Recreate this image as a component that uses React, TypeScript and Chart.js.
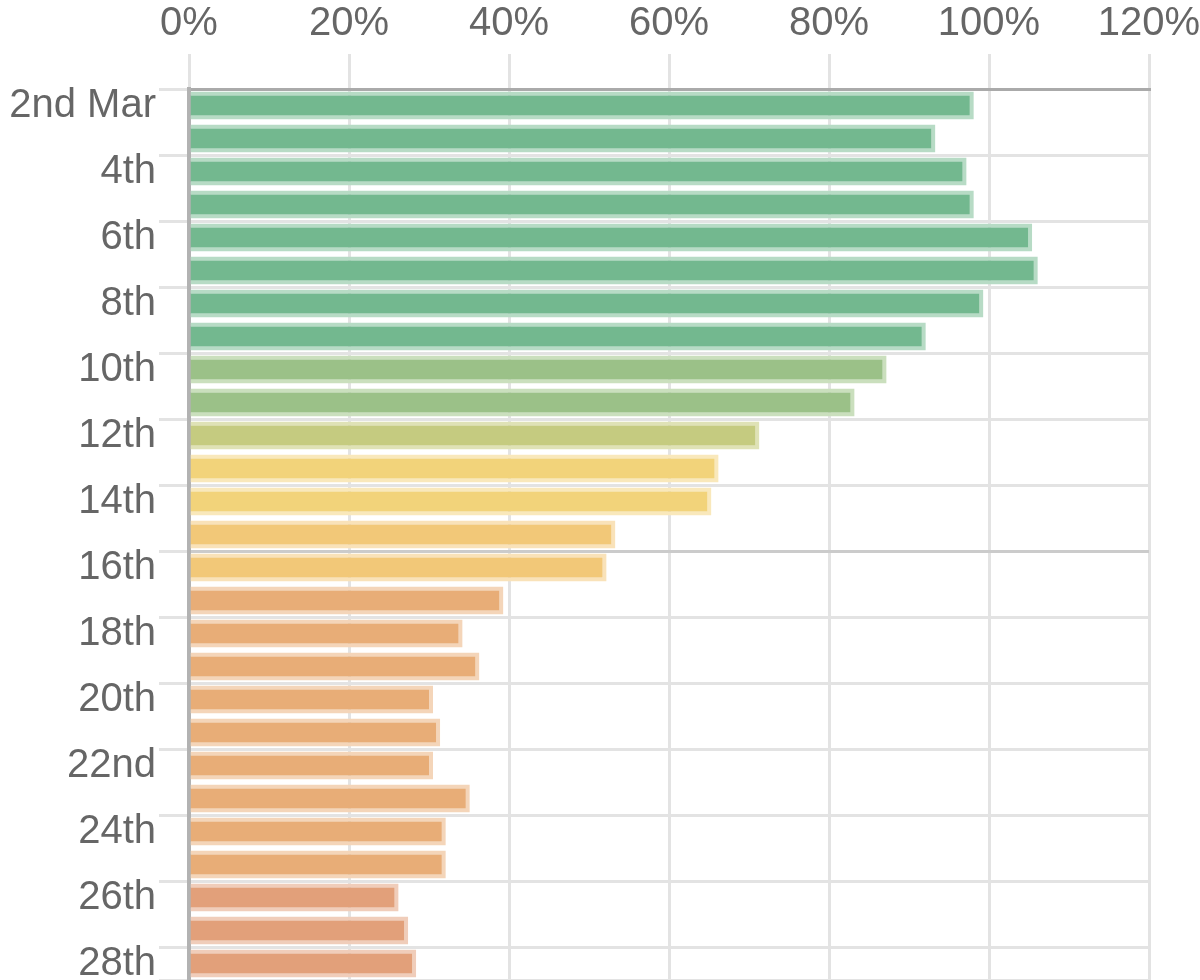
import React, { useEffect, useRef } from "react";
import { Chart, registerables } from "chart.js";

Chart.register(...registerables);

const categories: string[] = [
  "2nd Mar", "3rd", "4th", "5th", "6th", "7th", "8th", "9th", "10th", "11th",
  "12th", "13th", "14th", "15th", "16th", "17th", "18th", "19th", "20th", "21st",
  "22nd", "23rd", "24th", "25th", "26th", "27th", "28th",
];

const values: number[] = [
  98.1, 93.3, 97.2, 98.1, 105.4, 106.1, 99.3, 92.1, 87.2, 83.2,
  71.3, 66.2, 65.3, 53.3, 52.2, 39.3, 34.2, 36.3, 30.5, 31.4,
  30.5, 35.1, 32.1, 32.1, 26.2, 27.4, 28.4,
];

// colour band of each bar
const bands: number[] = [
  0, 0, 0, 0, 0, 0, 0, 0, 1, 1,
  2, 3, 3, 4, 4, 5, 5, 5, 5, 5,
  5, 5, 5, 5, 6, 6, 6,
];

const xTicks: number[] = [0, 20, 40, 60, 80, 100, 120];

const bandFill = ["#73b88f", "#9bc188", "#c5cb80", "#f2d37a", "#f2c878", "#e8ad77", "#e2a07a"];
const bandBorder = ["#b7dbc5", "#cadfbd", "#dfe2b6", "#f9e8bb", "#f9e2b9", "#f4d5b9", "#f0cdba"];

export default function App() {
  const ref = useRef<HTMLCanvasElement | null>(null);

  useEffect(() => {
    if (!ref.current) return;
    const font = { family: "'Liberation Sans', Arial, sans-serif", size: 40 };
    const chart = new Chart(ref.current, {
      type: "bar",
      data: {
        labels: categories,
        datasets: [
          {
            data: values,
            backgroundColor: bands.map((b) => bandFill[b]),
            borderColor: bands.map((b) => bandBorder[b]),
            borderWidth: 4,
            borderSkipped: "start",
            barPercentage: 0.85,
            categoryPercentage: 1,
          },
        ],
      },
      options: {
        indexAxis: "y",
        animation: false,
        responsive: true,
        maintainAspectRatio: false,
        layout: { padding: { left: 0, right: 51, top: 0, bottom: 0 } },
        plugins: { legend: { display: false }, tooltip: { enabled: false } },
        scales: {
          x: {
            position: "top",
            min: xTicks[0],
            max: xTicks[xTicks.length - 1],
            afterBuildTicks: (scale: any) => {
              scale.ticks = xTicks.map((v) => ({ value: v }));
            },
            afterFit: (scale: any) => {
              scale.height = 89;
              scale.paddingLeft = 0;
              scale.paddingRight = 0;
            },
            ticks: {
              color: "#666",
              font,
              padding: 6,
              callback: (v: any) => v + "%",
            },
            grid: { color: "#e3e3e3", lineWidth: 3, tickLength: 35 },
            border: { color: "#aaaaaa", width: 3 },
          },
          y: {
            afterFit: (scale: any) => {
              scale.width = 189;
              scale.paddingTop = 0;
              scale.paddingBottom = 0;
            },
            ticks: {
              color: "#666",
              font,
              padding: 3,
              autoSkip: false,
              callback: function (this: any, _v: any, i: number) {
                return i % 2 === 0 ? categories[i] : "";
              },
            },
            grid: {
              lineWidth: 3,
              tickLength: 30,
              color: (ctx: any) =>
                ctx.index % 2 ? "rgba(0,0,0,0)" : ctx.index === 14 ? "#cbcbcb" : "#e3e3e3",
              tickColor: (ctx: any) => (ctx.index % 2 ? "rgba(0,0,0,0)" : "#e3e3e3"),
            },
            border: { color: "#b2b2b2", width: 4 },
          },
        },
      },
    });
    return () => chart.destroy();
  }, []);

  return (
    <div style={{ position: "absolute", left: 0, top: 0, width: 1200, height: 980, background: "#fff" }}>
      <canvas ref={ref} />
    </div>
  );
}
